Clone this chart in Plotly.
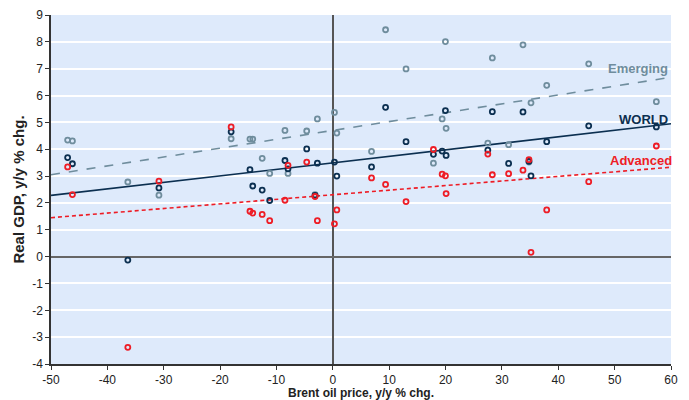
import plotly.graph_objects as go

# Brent oil price, y/y % chg.
oil = [-47.05, -46.2, -36.37, -30.85, -18.04, -14.7, -14.2, -12.53, -11.2, -8.49,
       -7.95, -4.63, -3.15, -2.74, 0.29, 0.71, 6.87, 9.36, 12.99, 17.85,
       19.4, 19.98, 20.1, 27.5, 28.3, 31.19, 33.74, 34.8, 35.16, 37.95,
       45.4, 57.4]
emerging = [4.34, 4.31, 2.78, 2.29, 4.39, 4.38, 4.38, 3.66, 3.10, 4.70,
            3.10, 4.68, 2.31, 5.13, 5.37, 4.60, 3.92, 8.45, 6.99, 3.48,
            5.13, 8.01, 4.78, 4.23, 7.40, 4.17, 7.89, 3.52, 5.73, 6.38,
            7.18, 5.77]
world = [3.69, 3.46, -0.13, 2.56, 4.65, 3.24, 2.63, 2.48, 2.09, 3.58,
         3.27, 4.01, 2.28, 3.48, 3.52, 3.00, 3.34, 5.56, 4.28, 3.81,
         3.93, 5.44, 3.77, 3.97, 5.40, 3.47, 5.39, 3.55, 3.01, 4.28,
         4.87, 4.83]
advanced = [3.34, 2.31, -3.38, 2.81, 4.83, 1.69, 1.62, 1.57, 1.34, 2.10,
            3.40, 3.52, 2.24, 1.34, 1.22, 1.74, 2.93, 2.69, 2.05, 3.99,
            3.07, 3.01, 2.35, 3.82, 3.05, 3.09, 3.22, 3.61, 0.16, 1.74,
            2.79, 4.12]

# Trend lines (endpoints)
trend_x = [-50, 60]
trend_emerging = [3.05, 6.68]
trend_world = [2.28, 4.95]
trend_advanced = [1.45, 3.33]

# Tick labels (hyphen minus as in the original)
x_ticks = [-50, -40, -30, -20, -10, 0, 10, 20, 30, 40, 50, 60]
x_labels = ["-50", "-40", "-30", "-20", "-10", "0", "10", "20", "30", "40", "50", "60"]
y_ticks = [-4, -3, -2, -1, 0, 1, 2, 3, 4, 5, 6, 7, 8, 9]
y_labels = ["-4", "-3", "-2", "-1", "0", "1", "2", "3", "4", "5", "6", "7", "8", "9"]

C_EM = "#6f8d9d"
C_WO = "#0b2f50"
C_AD = "#ee1c25"
FONT = "Liberation Sans, Arial, sans-serif"

fig = go.Figure()

fig.add_trace(go.Scatter(x=trend_x, y=trend_emerging, mode="lines",
                         line=dict(color=C_EM, width=1.6, dash="dash"), hoverinfo="skip"))
fig.add_trace(go.Scatter(x=trend_x, y=trend_world, mode="lines",
                         line=dict(color=C_WO, width=1.6), hoverinfo="skip"))
fig.add_trace(go.Scatter(x=trend_x, y=trend_advanced, mode="lines",
                         line=dict(color=C_AD, width=1.6, dash="4px,3px"), hoverinfo="skip"))

for ys, col, name in [(emerging, C_EM, "Emerging"), (world, C_WO, "WORLD"), (advanced, C_AD, "Advanced")]:
    fig.add_trace(go.Scatter(x=oil, y=ys, mode="markers", name=name,
                             marker=dict(symbol="circle-open", size=5,
                                         color=col, line=dict(width=1.8, color=col))))

fig.add_annotation(x=54.1, y=7.0, text="<b>Emerging</b>", showarrow=False,
                   font=dict(family=FONT, size=13, color=C_EM))
fig.add_annotation(x=55.1, y=5.1, text="<b>WORLD</b>", showarrow=False,
                   font=dict(family=FONT, size=13, color=C_WO))
fig.add_annotation(x=54.7, y=3.57, text="<b>Advanced</b>", showarrow=False,
                   font=dict(family=FONT, size=13, color=C_AD))

fig.update_layout(
    width=689, height=400,
    margin=dict(l=51, r=18, t=15, b=36, autoexpand=False),
    paper_bgcolor="white",
    plot_bgcolor="#deeafb",
    showlegend=False,
    font=dict(family=FONT, size=12, color="#222222"),
)
fig.update_xaxes(
    range=[-50, 60], tickvals=x_ticks, ticktext=x_labels,
    showgrid=False, automargin=False,
    zeroline=True, zerolinecolor="#555555", zerolinewidth=1.5,
    showline=True, linecolor="#333333", linewidth=1.5,
    ticks="outside", ticklen=4, tickcolor="#333333",
    title=dict(text="<b>Brent oil price, y/y % chg.</b>", font=dict(size=12), standoff=2),
)
fig.update_yaxes(
    range=[-4, 9], tickvals=y_ticks, ticktext=y_labels,
    showgrid=True, gridcolor="white", gridwidth=1.5, automargin=False,
    zeroline=True, zerolinecolor="#666666", zerolinewidth=2,
    showline=True, linecolor="#333333", linewidth=1.5,
    ticks="outside", ticklen=4, tickcolor="#333333",
    title=dict(text="<b>Real GDP, y/y % chg.</b>", font=dict(size=15), standoff=4),
)

fig.write_html("out.html")
